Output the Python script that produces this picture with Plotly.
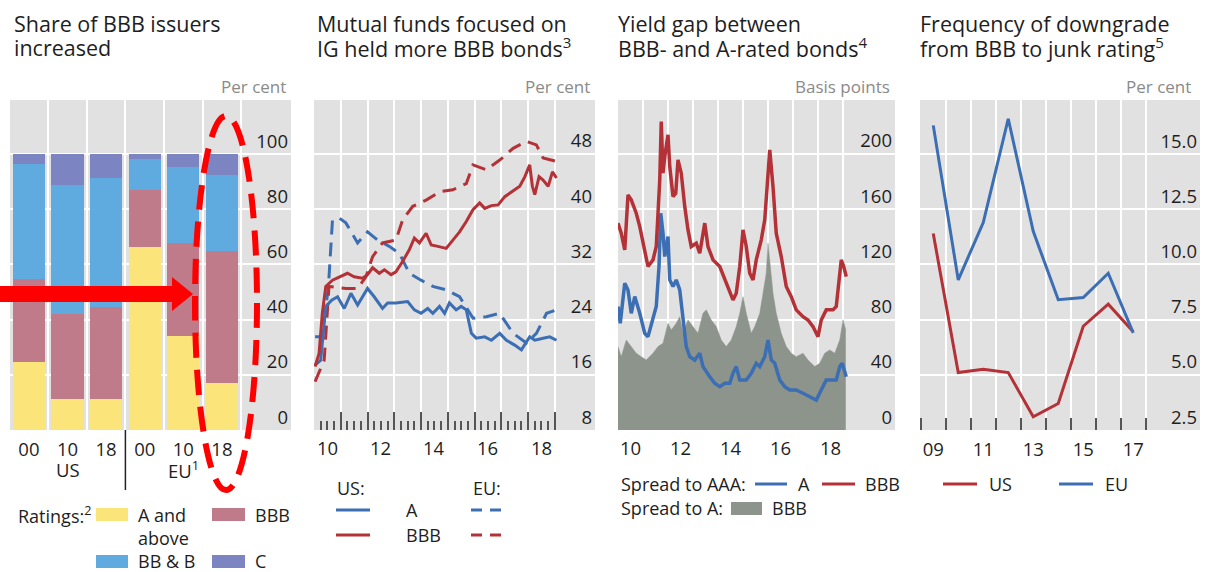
import plotly.graph_objects as go

W, H = 1206, 572
FONT = "Open Sans"
TXT = "#1e1e1e"
UNIT_TXT = "#8a8a8a"
BG = "#e1e1e1"
TICKC = "#555555"

COL_A = "#fbe57a"
COL_BBB = "#c07b8a"
COL_BBB_B = "#5faade"
COL_C = "#7d84c2"
BLUE = "#3c6eb4"
RED = "#b43237"
FILL_GREY = "#8d948c"

# ---------------- data ----------------
# Panel 1: share of issuers by rating (per cent)
p1_x = [0, 1, 2, 3, 4, 5]
p1_ticklabels = ["00", "10", "18", "00", "10", "18"]
p1_group_labels = ["US", "EU<sup>1</sup>"]
p1_group_pos = [1, 4]
p1_a_above = [24.8, 11.1, 11.1, 66.4, 34.1, 17.1]
p1_bbb = [29.9, 30.8, 33.6, 20.6, 33.5, 47.8]
p1_bb_b = [41.7, 46.9, 46.5, 11.2, 27.6, 27.5]
p1_c = [3.6, 11.2, 8.8, 1.8, 4.8, 7.6]
p1_yticks = [0, 20, 40, 60, 80, 100]

# Panel 2: mutual funds focused on IG (per cent)
p2_us_a_x = [2010.04, 2010.25, 2010.44, 2010.66, 2010.88, 2011.13, 2011.38, 2011.63, 2012.00, 2012.25,
             2012.56, 2012.75, 2013.06, 2013.50, 2013.75, 2014.00, 2014.25, 2014.44, 2014.69, 2014.88,
             2015.06, 2015.31, 2015.50, 2015.69, 2015.88, 2016.06, 2016.38, 2016.63, 2016.94, 2017.19,
             2017.50, 2017.75, 2018.06, 2018.25, 2018.56, 2018.81, 2019.06]
p2_us_a_y = [17.4, 18.1, 25.9, 26.8, 27.3, 25.6, 27.8, 26.1, 28.5, 27.3,
             25.6, 26.4, 26.4, 26.6, 25.4, 24.9, 25.6, 24.9, 25.9, 24.9,
             26.4, 25.4, 25.9, 25.4, 22.0, 21.3, 21.5, 21.0, 22.0, 21.0,
             20.3, 19.6, 21.5, 21.0, 21.3, 21.5, 21.0]
p2_us_bbb_x = [2010.04, 2010.19, 2010.31, 2010.44, 2010.69, 2011.00, 2011.25, 2011.50, 2011.81, 2012.00,
               2012.19, 2012.44, 2012.63, 2012.88, 2013.06, 2013.31, 2013.56, 2013.75, 2013.94, 2014.19,
               2014.38, 2014.63, 2014.94, 2015.19, 2015.44, 2015.69, 2015.94, 2016.19, 2016.38, 2016.63,
               2016.88, 2017.13, 2017.38, 2017.69, 2017.88, 2018.06, 2018.16, 2018.25, 2018.41, 2018.56,
               2018.75, 2018.91, 2019.06]
p2_us_bbb_y = [17.2, 19.1, 24.9, 28.8, 29.7, 30.2, 30.7, 30.2, 30.0, 30.5,
               31.5, 30.7, 31.2, 30.5, 30.9, 32.4, 34.1, 35.8, 35.1, 36.5,
               34.8, 34.6, 34.3, 35.5, 36.7, 38.2, 39.9, 40.9, 40.1, 40.5,
               40.6, 41.8, 42.5, 43.3, 44.7, 46.4, 43.3, 42.1, 44.7, 44.2,
               43.3, 45.4, 44.5]
p2_eu_a_x = [2010.04, 2010.31, 2010.54, 2010.69, 2010.94, 2011.19, 2011.63, 2012.00, 2012.38, 2012.81,
             2013.19, 2013.56, 2014.00, 2014.44, 2014.94, 2015.44, 2015.94, 2016.44, 2016.94, 2017.44,
             2017.94, 2018.31, 2018.69, 2019.06]
p2_eu_a_y = [21.5, 21.5, 28.8, 38.4, 38.7, 38.0, 35.1, 36.7, 35.5, 34.6,
             33.6, 30.7, 29.7, 28.8, 28.3, 27.3, 24.2, 24.4, 24.9, 22.0,
             20.6, 22.0, 24.9, 25.4]
p2_eu_bbb_x = [2010.04, 2010.38, 2010.56, 2011.19, 2011.63, 2011.94, 2012.19, 2012.56, 2013.06, 2013.31,
               2013.69, 2014.19, 2014.69, 2015.19, 2015.69, 2015.94, 2016.44, 2016.94, 2017.44, 2017.94,
               2018.31, 2018.56, 2019.06]
p2_eu_bbb_y = [15.0, 18.1, 28.8, 28.5, 28.5, 30.2, 33.1, 35.1, 35.5, 38.4,
               40.4, 41.3, 42.5, 42.8, 43.7, 46.4, 45.7, 47.1, 48.8, 49.8,
               49.3, 47.4, 46.9]
p2_yticks = [8, 16, 24, 32, 40, 48]
p2_label_years = [2010, 2012, 2014, 2016, 2018]
p2_labels = ["10", "12", "14", "16", "18"]

# Panel 3: yield gap (basis points)
p3_bbb_x = [2010.00, 2010.13, 2010.27, 2010.40, 2010.53, 2010.73, 2010.87, 2011.07, 2011.20, 2011.40,
            2011.53, 2011.67, 2011.73, 2011.80, 2011.87, 2012.00, 2012.07, 2012.20, 2012.31, 2012.40,
            2012.53, 2012.67, 2012.80, 2012.93, 2013.13, 2013.27, 2013.47, 2013.60, 2013.80, 2014.07,
            2014.27, 2014.47, 2014.60, 2014.73, 2014.87, 2015.00, 2015.13, 2015.27, 2015.40, 2015.53,
            2015.73, 2015.87, 2016.00, 2016.07, 2016.20, 2016.33, 2016.53, 2016.73, 2016.93, 2017.13,
            2017.40, 2017.60, 2017.80, 2018.00, 2018.13, 2018.33, 2018.60, 2018.73, 2018.93, 2019.03,
            2019.13]
p3_bbb_y = [149.8, 142.5, 130.4, 170.3, 166.7, 157.0, 147.3, 128.0, 118.4, 123.2,
            132.9, 181.2, 223.4, 186.0, 198.1, 213.8, 190.8, 169.1, 171.5, 195.7,
            186.0, 161.8, 144.9, 132.9, 135.3, 128.0, 149.8, 132.9, 123.2, 118.4,
            108.7, 99.0, 94.2, 99.0, 118.4, 144.9, 132.9, 113.5, 108.7, 123.2,
            137.7, 152.2, 181.2, 202.9, 176.3, 142.5, 125.6, 103.9, 96.6, 87.0,
            82.1, 79.7, 74.9, 67.6, 79.7, 87.0, 87.0, 89.4, 123.2, 118.4,
            111.1]
p3_a_x = [2010.00, 2010.09, 2010.27, 2010.40, 2010.53, 2010.67, 2010.87, 2011.07, 2011.20, 2011.40,
          2011.53, 2011.64, 2011.71, 2011.80, 2011.87, 2012.00, 2012.07, 2012.20, 2012.33, 2012.47,
          2012.60, 2012.73, 2012.87, 2013.07, 2013.27, 2013.40, 2013.67, 2013.87, 2014.07, 2014.27,
          2014.47, 2014.60, 2014.73, 2014.87, 2015.13, 2015.33, 2015.53, 2015.67, 2015.87, 2016.00,
          2016.13, 2016.27, 2016.47, 2016.67, 2016.87, 2017.13, 2017.40, 2017.67, 2017.93, 2018.13,
          2018.33, 2018.53, 2018.73, 2018.87, 2018.97, 2019.13]
p3_a_y = [89.4, 77.3, 106.3, 101.4, 84.5, 96.6, 84.5, 70.0, 67.6, 79.7,
          89.4, 118.4, 157.0, 142.5, 125.6, 140.1, 108.7, 103.9, 108.7, 101.4,
          79.7, 60.4, 53.1, 50.7, 55.6, 45.9, 38.6, 33.8, 31.4, 33.8,
          33.8, 41.1, 45.9, 36.2, 36.2, 41.1, 48.3, 45.9, 53.1, 65.2,
          50.7, 48.3, 36.2, 31.4, 29.0, 29.0, 26.6, 24.2, 21.7, 29.0,
          36.2, 36.2, 36.2, 45.9, 48.3, 38.6]
p3_gap_x = [2010.00, 2010.13, 2010.33, 2010.53, 2010.73, 2010.93, 2011.13, 2011.40, 2011.60, 2011.80,
            2012.00, 2012.13, 2012.33, 2012.47, 2012.60, 2012.80, 2013.00, 2013.20, 2013.40, 2013.53,
            2013.73, 2013.93, 2014.13, 2014.33, 2014.53, 2014.73, 2014.87, 2015.00, 2015.13, 2015.33,
            2015.47, 2015.67, 2015.80, 2015.93, 2016.00, 2016.09, 2016.20, 2016.33, 2016.53, 2016.73,
            2016.93, 2017.13, 2017.40, 2017.60, 2017.87, 2018.07, 2018.27, 2018.47, 2018.67, 2018.87,
            2019.00, 2019.11]
p3_gap_y = [60.4, 53.1, 65.2, 60.4, 55.6, 53.1, 50.7, 55.6, 60.4, 62.8,
            77.3, 72.5, 77.3, 82.1, 70.0, 79.7, 74.9, 70.0, 84.5, 87.0,
            79.7, 74.9, 65.2, 60.4, 65.2, 74.9, 84.5, 96.6, 84.5, 70.0,
            74.9, 84.5, 99.0, 113.5, 135.3, 118.4, 99.0, 84.5, 70.0, 60.4,
            55.6, 53.1, 55.6, 50.7, 45.9, 48.3, 55.6, 58.0, 55.6, 65.2,
            79.7, 72.5]
p3_yticks = [0, 40, 80, 120, 160, 200]
p3_label_years = [2010, 2012, 2014, 2016, 2018]
p3_labels = ["10", "12", "14", "16", "18"]

# Panel 4: frequency of downgrade (per cent)
p4_years = [2009, 2010, 2011, 2012, 2013, 2014, 2015, 2016, 2017]
p4_us = [11.4, 5.1, 5.25, 5.1, 3.1, 3.7, 7.2, 8.2, 6.95]
p4_eu = [16.3, 9.3, 11.9, 16.6, 11.5, 8.4, 8.5, 9.6, 6.9]
p4_tickyears = [2009, 2011, 2013, 2015, 2017]
p4_ticklabels = ["09", "11", "13", "15", "17"]
p4_yticks = [2.5, 5.0, 7.5, 10.0, 12.5, 15.0]

titles = [
    ["Share of BBB issuers", "increased"],
    ["Mutual funds focused on", "IG held more BBB bonds<sup>3</sup>"],
    ["Yield gap between", "BBB- and A-rated bonds<sup>4</sup>"],
    ["Frequency of downgrade", "from BBB to junk rating<sup>5</sup>"],
]
units = ["Per cent", "Per cent", "Basis points", "Per cent"]


# ---------------- helpers ----------------
def fx(p):
    return p / W


def fy(p):
    return 1 - p / H


annotations = []
shapes = []


def text(t, x, y, size=18, color=TXT, xanchor="left", yanchor="middle", xref="paper", yref="paper"):
    annotations.append(dict(
        text=t, x=fx(x) if xref == "paper" else x, y=fy(y) if yref == "paper" else y,
        xref=xref, yref=yref, xanchor=xanchor, yanchor=yanchor, showarrow=False,
        font=dict(family=FONT, size=size, color=color)))


def hline_swatch(x0, x1, y, color, dash="solid", width=3):
    shapes.append(dict(type="line", xref="paper", yref="paper", x0=fx(x0), x1=fx(x1),
                       y0=fy(y), y1=fy(y), line=dict(color=color, width=width, dash=dash)))


def rect_swatch(x0, x1, y0, y1, color):
    shapes.append(dict(type="rect", xref="paper", yref="paper", x0=fx(x0), x1=fx(x1),
                       y0=fy(y1), y1=fy(y0), line=dict(width=0), fillcolor=color))


fig = go.Figure()

# ---------------- panel 1 ----------------
for vals, col in [(p1_a_above, COL_A), (p1_bbb, COL_BBB), (p1_bb_b, COL_BBB_B), (p1_c, COL_C)]:
    fig.add_trace(go.Bar(x=p1_x, y=vals, marker=dict(color=col, line=dict(width=0)),
                         width=0.83, xaxis="x", yaxis="y", showlegend=False))

# ---------------- panel 2 ----------------
DASH = "14px,8px"
fig.add_trace(go.Scatter(x=p2_eu_a_x, y=p2_eu_a_y, mode="lines", line=dict(color=BLUE, width=3, dash=DASH),
                         xaxis="x2", yaxis="y2", showlegend=False))
fig.add_trace(go.Scatter(x=p2_eu_bbb_x, y=p2_eu_bbb_y, mode="lines", line=dict(color=RED, width=3, dash=DASH),
                         xaxis="x2", yaxis="y2", showlegend=False))
fig.add_trace(go.Scatter(x=p2_us_a_x, y=p2_us_a_y, mode="lines", line=dict(color=BLUE, width=3),
                         xaxis="x2", yaxis="y2", showlegend=False))
fig.add_trace(go.Scatter(x=p2_us_bbb_x, y=p2_us_bbb_y, mode="lines", line=dict(color=RED, width=3),
                         xaxis="x2", yaxis="y2", showlegend=False))

# ---------------- panel 3 ----------------
fig.add_trace(go.Scatter(x=p3_gap_x, y=p3_gap_y, mode="lines", fill="tozeroy", fillcolor=FILL_GREY,
                         line=dict(color=FILL_GREY, width=0.5), xaxis="x3", yaxis="y3", showlegend=False))
fig.add_trace(go.Scatter(x=p3_a_x, y=p3_a_y, mode="lines", line=dict(color=BLUE, width=3.5),
                         xaxis="x3", yaxis="y3", showlegend=False))
fig.add_trace(go.Scatter(x=p3_bbb_x, y=p3_bbb_y, mode="lines", line=dict(color=RED, width=3.5),
                         xaxis="x3", yaxis="y3", showlegend=False))

# ---------------- panel 4 ----------------
fig.add_trace(go.Scatter(x=p4_years, y=p4_us, mode="lines", line=dict(color=RED, width=3),
                         xaxis="x4", yaxis="y4", showlegend=False))
fig.add_trace(go.Scatter(x=p4_years, y=p4_eu, mode="lines", line=dict(color=BLUE, width=3),
                         xaxis="x4", yaxis="y4", showlegend=False))

TICKFONT = dict(family=FONT, size=18.5, color=TXT)
YDOM = [fy(430), fy(100)]


def yax(rng, tickvals, ticktext=None, anchor="x"):
    d = dict(domain=YDOM, range=rng, side="right", anchor=anchor, tickmode="array", tickvals=tickvals,
             ticklabelposition="inside top", showgrid=True, gridcolor="white", gridwidth=1.5,
             zeroline=False, showline=False, ticks="", tickfont=TICKFONT, fixedrange=True)
    if ticktext is not None:
        d["ticktext"] = ticktext
    return d


year_ticks_2 = list(range(2010, 2020))
quarters_2 = [2010 + 0.25 * i for i in range(0, 37)]

fig.update_layout(
    width=W, height=H, margin=dict(l=0, r=0, t=0, b=0),
    paper_bgcolor="white", plot_bgcolor=BG, barmode="stack", bargap=0,
    font=dict(family=FONT, color=TXT),
    xaxis=dict(domain=[fx(10), fx(291)], range=[-0.49, 6.79], anchor="y", tickmode="array",
               tickvals=p1_x, ticktext=p1_ticklabels, ticks="", showgrid=False, zeroline=False,
               showline=False, tickfont=TICKFONT, ticklabelstandoff=6,
               minor=dict(tickvals=[0.5, 1.5, 2.5, 3.5, 4.5, 5.5], showgrid=True, gridcolor="white",
                          gridwidth=1.5, ticks="")),
    yaxis=yax([0, 119.6], p1_yticks, anchor="x"),
    xaxis2=dict(domain=[fx(314), fx(595)], range=[2010, 2020.5], anchor="y2", tickmode="array",
                tickvals=year_ticks_2, showticklabels=False, ticks="inside", ticklen=18,
                tickwidth=2, tickcolor=TICKC, showgrid=True, gridcolor="white", gridwidth=1.5,
                zeroline=False, showline=False,
                minor=dict(tickvals=quarters_2, ticks="inside", ticklen=9, tickwidth=2,
                           tickcolor=TICKC, showgrid=False)),
    yaxis2=yax([8, 55.8], p2_yticks, anchor="x2"),
    xaxis3=dict(domain=[fx(618), fx(895)], range=[2010, 2021.08], anchor="y3", tickmode="array",
                tickvals=year_ticks_2, showticklabels=False, ticks="inside", ticklen=10,
                tickwidth=2, tickcolor=TICKC, showgrid=True, gridcolor="white", gridwidth=1.5,
                zeroline=False, showline=False, layer="below traces"),
    yaxis3=yax([0, 239], p3_yticks, anchor="x3"),
    xaxis4=dict(domain=[fx(920), fx(1200)], range=[2008.47, 2019.67], anchor="y4", tickmode="array",
                tickvals=p4_tickyears, ticktext=p4_ticklabels, ticks="", showgrid=False, zeroline=False,
                showline=False, tickfont=TICKFONT, ticklabelstandoff=6,
                minor=dict(tickvals=[y + 0.5 for y in range(2008, 2018)], ticks="inside", ticklen=12,
                           tickwidth=2, tickcolor=TICKC, showgrid=True, gridcolor="white", gridwidth=1.5)),
    yaxis4=yax([2.5, 17.45], p4_yticks, ticktext=["%.1f" % v for v in p4_yticks], anchor="x4"),
)

# x labels for panels 2 and 3 (centred on the middle of each year)
for yr, lab in zip(p2_label_years, p2_labels):
    text(lab, yr + 0.5, 447, size=18.5, xanchor="center", xref="x2")
for yr, lab in zip(p3_label_years, p3_labels):
    text(lab, yr + 0.5, 447, size=18.5, xanchor="center", xref="x3")

# panel 1 group labels + separator
for pos, lab in zip(p1_group_pos, p1_group_labels):
    text(lab, pos, 469, size=18.5, xanchor="center", xref="x")
shapes.append(dict(type="line", xref="x", yref="paper", x0=2.5, x1=2.5, y0=fy(430), y1=fy(490),
                   line=dict(color="#222222", width=1.5)))

# titles & units
title_x = [12, 315, 616, 918]
unit_x = [288, 592, 892, 1193]
for (l1, l2), tx, u, ux in zip(titles, title_x, units, unit_x):
    text(l1, tx, 23.5, size=21.5)
    text(l2, tx, 47, size=21.5)
    text(u, ux, 87, size=17, color=UNIT_TXT, xanchor="right")

# legend panel 1
text("Ratings:<sup>2</sup>", 16, 515)
rect_swatch(96, 128, 508, 521, COL_A)
text("A and", 136, 515)
text("above", 136, 538)
rect_swatch(212, 245, 508, 521, COL_BBB)
text("BBB", 253, 515)
rect_swatch(96, 128, 555, 568, COL_BBB_B)
text("BB & B", 136, 561)
rect_swatch(212, 245, 555, 568, COL_C)
text("C", 253, 561)

# legend panel 2
text("US:", 335, 488)
text("EU:", 471, 488)
hline_swatch(336, 370, 510, BLUE)
text("A", 404, 510)
hline_swatch(471, 506, 510, BLUE, dash="11px,8px")
hline_swatch(336, 370, 535, RED)
text("BBB", 404, 535)
hline_swatch(471, 506, 535, RED, dash="11px,8px")

# legend panel 3
text("Spread to AAA:", 619, 484)
hline_swatch(755, 787, 484, BLUE)
text("A", 796, 484)
hline_swatch(822, 855, 484, RED)
text("BBB", 863, 484)
text("Spread to A:", 619, 508)
rect_swatch(731, 762, 502, 515, FILL_GREY)
text("BBB", 770, 508)

# legend panel 4
hline_swatch(943, 977, 484, RED)
text("US", 987, 484)
hline_swatch(1059, 1093, 484, BLUE)
text("EU", 1103, 484)

# red highlight: arrow and dashed ellipse
rect_swatch(0, 174, 286, 302, "#ff0000")
shapes.append(dict(type="path", xref="paper", yref="paper",
                   path="M %f,%f L %f,%f L %f,%f Z" % (fx(172), fy(277), fx(193), fy(294), fx(172), fy(311)),
                   fillcolor="#ff0000", line=dict(width=0)))
shapes.append(dict(type="circle", xref="paper", yref="paper", x0=fx(195), x1=fx(257), y0=fy(490), y1=fy(116),
                   line=dict(color="#ff0000", width=6, dash="25px,12px")))

fig.update_layout(annotations=annotations, shapes=shapes)
fig.write_html("out.html", config={"displayModeBar": False},
               post_script="document.body.style.margin='0px';document.body.style.padding='0px';"
                           "document.body.style.overflow='hidden';")
